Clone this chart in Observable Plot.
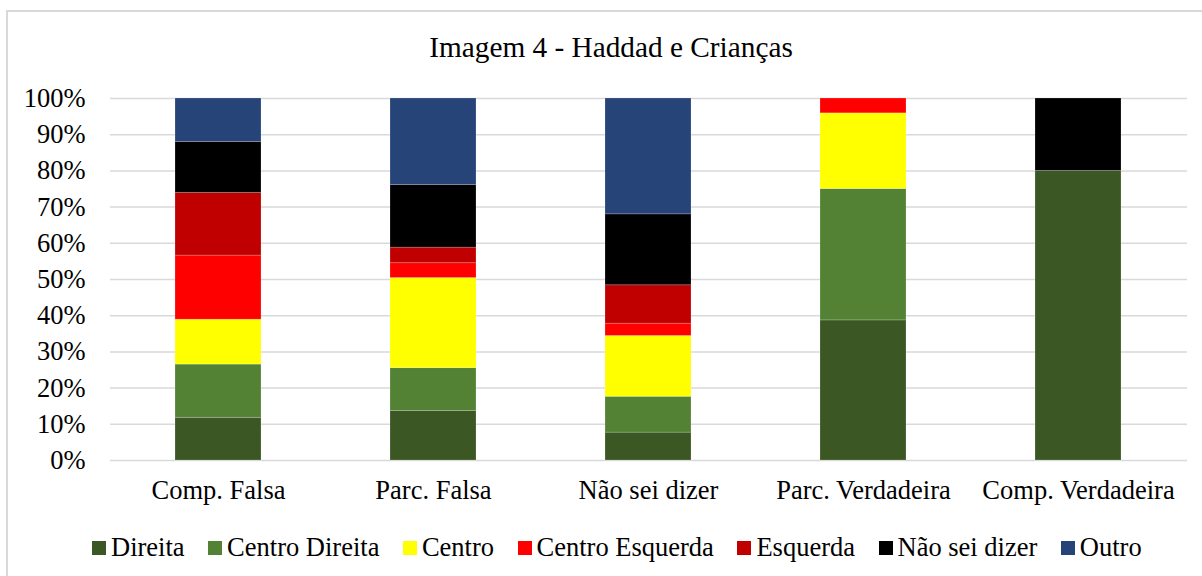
<!DOCTYPE html>
<html>
<head>
<meta charset="utf-8">
<script src="https://cdn.jsdelivr.net/npm/d3@7"></script>
<script src="https://cdn.jsdelivr.net/npm/@observablehq/plot@0.6"></script>
<style>
  html, body { margin: 0; padding: 0; background: #fff; }
  #wrap { position: relative; width: 1202px; height: 576px; overflow: hidden; background: #fff; font-family: "Liberation Serif", "Times New Roman", serif; }
  #frame { position: absolute; left: 6px; top: 10px; width: 1300px; height: 700px; border: 2px solid #d9d9d9; box-sizing: border-box; }
  #title { position: absolute; left: 7px; width: 1208px; top: 33px; text-align: center; font-size: 29.3px; color: #000; line-height: 1; }
  #chart { position: absolute; left: 0; top: 0; }
  #legend { position: absolute; left: 92px; top: 532px; display: flex; align-items: center; gap: 23.5px; font-size: 26.5px; color: #000; white-space: nowrap; line-height: 1.2; }
  .item { display: flex; align-items: center; gap: 5px; }
  .sw { width: 14px; height: 14px; display: inline-block; }
</style>
</head>
<body>
<div id="wrap">
  <div id="frame"></div>
  <div id="chart"></div>
  <div id="title">Imagem 4 - Haddad e Crianças</div>
  <div id="legend"></div>
</div>
<script>
const categories = ["Comp. Falsa", "Parc. Falsa", "Não sei dizer", "Parc. Verdadeira", "Comp. Verdadeira"];
const seriesNames = ["Direita", "Centro Direita", "Centro", "Centro Esquerda", "Esquerda", "Não sei dizer", "Outro"];
const seriesColors = ["#3a5724", "#548235", "#ffff00", "#ff0000", "#c00000", "#000000", "#264478"];

const direita        = [11.8, 13.7, 7.7, 38.7, 80.0];
const centroDireita  = [14.7, 11.8, 9.9, 36.3, 0];
const centro         = [12.4, 24.9, 16.8, 20.9, 0];
const centroEsquerda = [17.7, 4.1, 3.4, 4.1, 0];
const esquerda       = [17.3, 4.3, 10.6, 0, 0];
const naoSeiDizer    = [14.1, 17.3, 19.6, 0, 20.0];
const outro          = [12.0, 23.9, 32.0, 0, 0];

const yTicks = [0, 10, 20, 30, 40, 50, 60, 70, 80, 90, 100];

const seriesValues = [direita, centroDireita, centro, centroEsquerda, esquerda, naoSeiDizer, outro];
const data = [];
seriesNames.forEach((s, i) => {
  categories.forEach((c, j) => {
    data.push({ category: c, series: s, value: seriesValues[i][j] });
  });
});

const chart = Plot.plot({
  width: 1202,
  height: 520,
  marginLeft: 110,
  marginRight: 15,
  marginTop: 98,
  marginBottom: 60,
  style: { fontFamily: "'Liberation Serif', 'Times New Roman', serif", fontSize: "26.5px", color: "#000", background: "transparent" },
  x: { domain: categories, paddingInner: 0.6, paddingOuter: 0.3, label: null, tickSize: 0, tickPadding: 20 },
  y: { domain: [0, 100], ticks: yTicks, tickFormat: d => d + "%", label: null, tickSize: 0, tickPadding: 25 },
  color: { domain: seriesNames, range: seriesColors },
  marks: [
    Plot.gridY(yTicks, { stroke: "#d9d9d9", strokeOpacity: 1, strokeWidth: 1.5 }),
    Plot.barY(data, { x: "category", y: "value", fill: "series", order: seriesNames, stroke: "#ffffff", strokeOpacity: 0.25, strokeWidth: 0.75 })
  ]
});
document.getElementById("chart").appendChild(chart);

const legend = document.getElementById("legend");
seriesNames.forEach((s, i) => {
  const item = document.createElement("div");
  item.className = "item";
  const sw = document.createElement("span");
  sw.className = "sw";
  sw.style.background = seriesColors[i];
  const t = document.createElement("span");
  t.textContent = s;
  item.appendChild(sw);
  item.appendChild(t);
  legend.appendChild(item);
});
</script>
</body>
</html>
